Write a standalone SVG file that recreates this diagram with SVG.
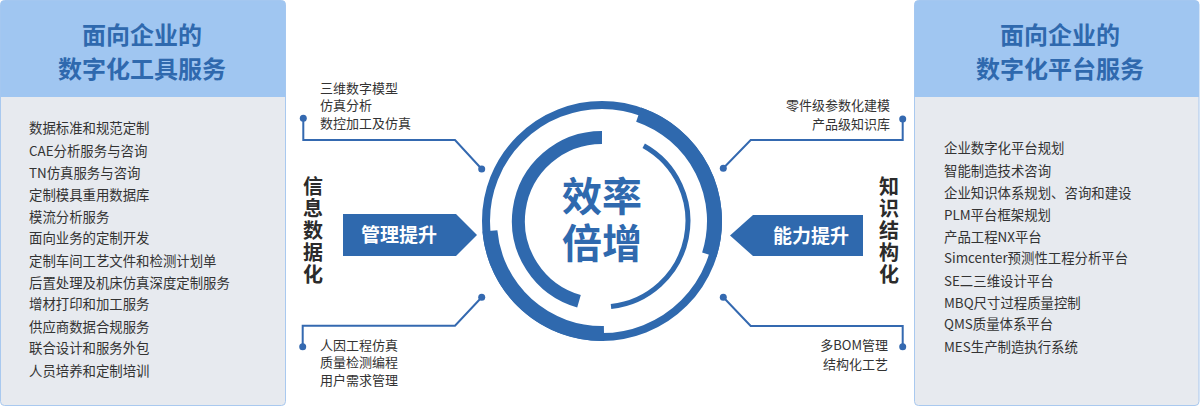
<svg xmlns="http://www.w3.org/2000/svg" width="1200" height="408" viewBox="0 0 1200 408">
<style>
.cjk{font-family:"Noto Sans CJK SC","Noto Sans",sans-serif}
.hdr{font-size:24px;font-weight:700;fill:#2f69ae;text-anchor:middle}
.item{font-size:13.4px;fill:#333}
.note{font-size:13px;fill:#333}
.vert{font-size:20px;font-weight:700;fill:#2b2b2b;writing-mode:vertical-rl;letter-spacing:2px}
.btn{font-size:19px;font-weight:700;fill:#fff;text-anchor:middle}
.big{font-size:40px;font-weight:700;fill:#2f69ae;text-anchor:middle}
.body{fill:#e7eaef;stroke:#a9c9ef;stroke-width:1}
.head{fill:#a0c6f1}
.blue{fill:#2f69ae}
.conn{fill:none;stroke:#3469b0;stroke-width:2}
.dot{fill:#3469b0}
.ring{fill:none;stroke:#2f69ae}
</style>
<rect width="1200" height="408" fill="#ffffff"/>

<g id="left-panel" class="cjk">
<rect class="body" x="0.5" y="0.5" width="285" height="405" rx="4"/>
<path class="head" d="M0.5,97 V4.5 Q0.5,0.5 4.5,0.5 H281.5 Q285.5,0.5 285.5,4.5 V97 Z"/>
<text class="hdr" x="142" y="44">面向企业的</text>
<text class="hdr" x="142" y="78">数字化工具服务</text>
<text class="item" x="29" y="133">数据标准和规范定制</text>
<text class="item" x="29" y="155.5">CAE分析服务与咨询</text>
<text class="item" x="29" y="177.5">TN仿真服务与咨询</text>
<text class="item" x="29" y="200">定制模具重用数据库</text>
<text class="item" x="29" y="221.5">模流分析服务</text>
<text class="item" x="29" y="243">面向业务的定制开发</text>
<text class="item" x="29" y="266">定制车间工艺文件和检测计划单</text>
<text class="item" x="29" y="287.5">后置处理及机床仿真深度定制服务</text>
<text class="item" x="29" y="309">增材打印和加工服务</text>
<text class="item" x="29" y="331.5">供应商数据合规服务</text>
<text class="item" x="29" y="353">联合设计和服务外包</text>
<text class="item" x="29" y="375.5">人员培养和定制培训</text>
</g>

<g id="right-panel" class="cjk">
<rect class="body" x="914.5" y="0.5" width="284.5" height="405" rx="4"/>
<path class="head" d="M914.5,97 V4.5 Q914.5,0.5 918.5,0.5 H1195 Q1199,0.5 1199,4.5 V97 Z"/>
<text class="hdr" x="1060" y="44">面向企业的</text>
<text class="hdr" x="1060" y="78">数字化平台服务</text>
<text class="item" x="944" y="153">企业数字化平台规划</text>
<text class="item" x="944" y="175.5">智能制造技术咨询</text>
<text class="item" x="944" y="197.5">企业知识体系规划、咨询和建设</text>
<text class="item" x="944" y="220">PLM平台框架规划</text>
<text class="item" x="944" y="241.5">产品工程NX平台</text>
<text class="item" x="944" y="263">Simcenter预测性工程分析平台</text>
<text class="item" x="944" y="285.5">SE二三维设计平台</text>
<text class="item" x="944" y="307.5">MBQ尺寸过程质量控制</text>
<text class="item" x="944" y="329">QMS质量体系平台</text>
<text class="item" x="944" y="351.5">MES生产制造执行系统</text>
</g>

<g id="center-circle" class="cjk">
<circle class="ring" cx="602" cy="221" r="116" stroke-width="8"/>
<path class="ring" stroke-width="15" d="M638.6,114.6 A112.5,112.5 0 0 1 709.3,254.8"/>
<path class="ring" stroke-width="15" d="M604.0,333.5 A112.5,112.5 0 0 1 489.9,230.8"/>
<path class="ring" stroke-width="13" d="M579.0,301.3 A83.5,83.5 0 0 1 602,137.5"/>
<path class="ring" stroke-width="5" d="M643.7,145.8 A86,86 0 0 1 611.0,306.5"/>
<text class="big" x="602" y="211">效率<tspan x="602" dy="47">倍增</tspan></text>
</g>

<g id="arrow-left" class="cjk">
<polygon class="blue" points="343,214 456,214 477,235 456,256 343,256"/>
<text class="btn" x="399" y="242">管理提升</text>
</g>

<g id="arrow-right" class="cjk">
<polygon class="blue" points="863,215 753,215 730,235.5 753,256 863,256"/>
<text class="btn" x="811" y="243">能力提升</text>
</g>

<g id="label-left" class="cjk">
<text class="vert" x="313" y="176">信息数据化</text>
</g>

<g id="label-right" class="cjk">
<text class="vert" x="889" y="176">知识结构化</text>
</g>

<g id="note-top-left" class="cjk">
<text class="note" x="320" y="92.5">三维数字模型</text>
<text class="note" x="320" y="110">仿真分析</text>
<text class="note" x="320" y="127.5">数控加工及仿真</text>
</g>

<g id="note-bottom-left" class="cjk">
<text class="note" x="320" y="349.5">人因工程仿真</text>
<text class="note" x="320" y="367">质量检测编程</text>
<text class="note" x="320" y="384.5">用户需求管理</text>
</g>

<g id="note-top-right" class="cjk">
<text class="note" x="890" y="110" text-anchor="end">零件级参数化建模</text>
<text class="note" x="890" y="129" text-anchor="end">产品级知识库</text>
</g>

<g id="note-bottom-right" class="cjk">
<text class="note" x="888" y="349.5" text-anchor="end">多BOM管理</text>
<text class="note" x="888" y="368.5" text-anchor="end">结构化工艺</text>
</g>

<g id="connectors">
<polyline class="conn" points="303.3,118.3 303.3,140 455,140 481.7,169"/>
<circle class="dot" cx="303.3" cy="118.3" r="3.5"/>
<circle class="dot" cx="481.7" cy="169" r="3.5"/>
<polyline class="conn" points="481.7,297.3 455,325.7 302.7,325.7 302.7,346.7"/>
<circle class="dot" cx="481.7" cy="297.3" r="3.5"/>
<circle class="dot" cx="302.7" cy="346.7" r="3.5"/>
<polyline class="conn" points="902.7,119 902.7,140 750.7,140 723.3,168.3"/>
<circle class="dot" cx="902.7" cy="119" r="3.5"/>
<circle class="dot" cx="723.3" cy="168.3" r="3.5"/>
<polyline class="conn" points="723.3,297.3 750.7,326 902.7,326 902.7,346.7"/>
<circle class="dot" cx="723.3" cy="297.3" r="3.5"/>
<circle class="dot" cx="902.7" cy="346.7" r="3.5"/>
</g>
</svg>
